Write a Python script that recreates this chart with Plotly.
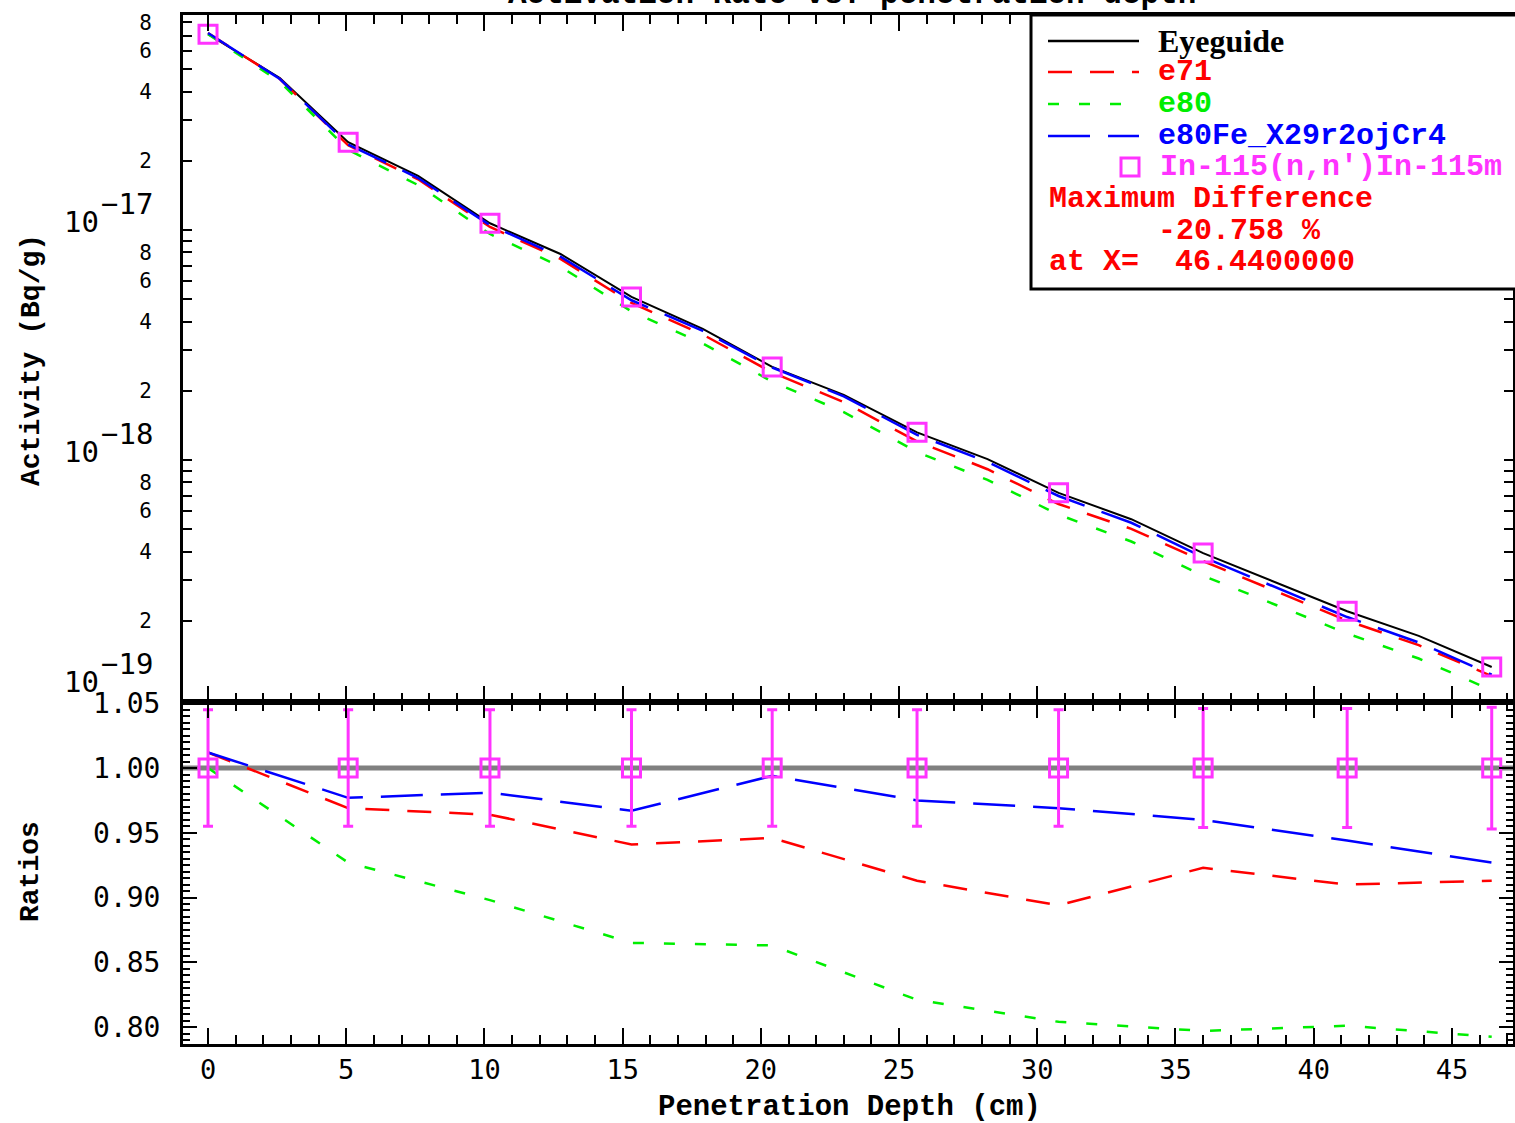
import plotly.graph_objects as go

# ---- measurement positions and values -------------------------------------
depth_meas = [0.0, 5.07, 10.2, 15.32, 20.41, 25.65, 30.77, 36.0, 41.21, 46.44]
act_meas = [7.1e-17, 2.41e-17, 1.07e-17, 5.12e-18, 2.54e-18,
            1.32e-18, 7.2e-19, 3.94e-19, 2.2e-19, 1.26e-19]
ratio_meas = [1.0, 1.0, 1.0, 1.0, 1.0, 1.0, 1.0, 1.0, 1.0, 1.0]
unc_meas = [0.045, 0.045, 0.045, 0.045, 0.045, 0.045, 0.045, 0.046, 0.046, 0.047]

# ---- eyeguide through the measured activities ------------------------------
depth_fine = [0.0, 2.6, 5.07, 7.6, 10.2, 12.75, 15.32, 17.9, 20.41, 23.0,
              25.65, 28.2, 30.77, 33.4, 36.0, 38.6, 41.21, 43.8, 46.44]
act_eye = [7.1e-17, 4.58e-17, 2.41e-17, 1.72e-17, 1.07e-17, 7.87e-18, 5.12e-18,
           3.72e-18, 2.54e-18, 1.92e-18, 1.32e-18, 1.01e-18, 7.2e-19, 5.53e-19,
           3.94e-19, 2.95e-19, 2.2e-19, 1.72e-19, 1.26e-19]

# ---- calculated / eyeguide along the depth (top panel) ---------------------
top_e71 = [1.012, 0.99, 0.969, 0.966, 0.964, 0.952, 0.941, 0.944, 0.946, 0.93,
           0.913, 0.903, 0.894, 0.908, 0.923, 0.916, 0.910, 0.911, 0.913]
top_e80 = [1.0, 0.963, 0.927, 0.912, 0.898, 0.881, 0.865, 0.864, 0.863, 0.842,
           0.821, 0.812, 0.804, 0.80, 0.797, 0.799, 0.801, 0.797, 0.7924]
top_e80fe = [1.012, 0.99, 0.977, 0.979, 0.981, 0.974, 0.967, 0.98, 0.994, 0.985,
             0.975, 0.972, 0.969, 0.965, 0.960, 0.952, 0.944, 0.936, 0.927]

# ---- C/E ratios at the measurement positions (bottom panel) ----------------
ratio_e71 = [1.012, 0.969, 0.964, 0.941, 0.946, 0.913, 0.894, 0.923, 0.910, 0.913]
ratio_e80 = [1.0, 0.927, 0.898, 0.865, 0.863, 0.821, 0.804, 0.797, 0.801, 0.79242]
ratio_e80fe = [1.012, 0.977, 0.981, 0.967, 0.994, 0.975, 0.969, 0.960, 0.944, 0.927]

# ---- axis ticks -------------------------------------------------------------
act_tickvals = [2e-19, 4e-19, 6e-19, 8e-19, 2e-18, 4e-18, 6e-18, 8e-18,
                2e-17, 4e-17, 6e-17, 8e-17]
act_ticktext = ["2", "4", "6", "8", "2", "4", "6", "8", "2", "4", "6", "8"]
act_minorvals = [3e-19, 5e-19, 7e-19, 9e-19, 1e-18, 3e-18, 5e-18, 7e-18, 9e-18,
                 1e-17, 3e-17, 5e-17, 7e-17]
decade_exps = [-19, -18, -17]

W, H = 1515, 1123
MAG = "#ff33ff"
RED, GRN, BLU = "#ff0000", "#00ee00", "#0000ff"
DASH_RED, DASH_GRN, DASH_BLU = "24px,18px", "11px,20px", "42px,18px"
MONO = "Liberation Mono"
TICKF = "DejaVu Sans Mono"


def px(x):
    return x / W


def py(y):
    return 1 - y / H


top_act = lambda r: [a * k for a, k in zip(act_eye, r)]

fig = go.Figure()

# top panel: activities
fig.add_trace(go.Scatter(x=depth_fine, y=act_eye, mode="lines",
                         line=dict(color="black", width=2), xaxis="x", yaxis="y"))
fig.add_trace(go.Scatter(x=depth_fine, y=top_act(top_e71), mode="lines",
                         line=dict(color=RED, width=2.5, dash=DASH_RED), xaxis="x", yaxis="y"))
fig.add_trace(go.Scatter(x=depth_fine, y=top_act(top_e80), mode="lines",
                         line=dict(color=GRN, width=2.5, dash=DASH_GRN), xaxis="x", yaxis="y"))
fig.add_trace(go.Scatter(x=depth_fine, y=top_act(top_e80fe), mode="lines",
                         line=dict(color=BLU, width=2.5, dash=DASH_BLU), xaxis="x", yaxis="y"))
fig.add_trace(go.Scatter(x=depth_meas, y=act_meas, mode="markers",
                         marker=dict(symbol="square-open", size=18, color=MAG,
                                     line=dict(width=3, color=MAG)),
                         xaxis="x", yaxis="y"))

# bottom panel: ratios
fig.add_trace(go.Scatter(x=depth_meas, y=ratio_e71, mode="lines",
                         line=dict(color=RED, width=2.5, dash=DASH_RED), xaxis="x2", yaxis="y2"))
fig.add_trace(go.Scatter(x=depth_meas, y=ratio_e80, mode="lines",
                         line=dict(color=GRN, width=2.5, dash=DASH_GRN), xaxis="x2", yaxis="y2"))
fig.add_trace(go.Scatter(x=depth_meas, y=ratio_e80fe, mode="lines",
                         line=dict(color=BLU, width=2.5, dash=DASH_BLU), xaxis="x2", yaxis="y2"))
fig.add_trace(go.Scatter(x=depth_meas, y=ratio_meas, mode="markers",
                         marker=dict(symbol="square-open", size=18, color=MAG,
                                     line=dict(width=3, color=MAG)),
                         error_y=dict(type="data", array=unc_meas, color=MAG,
                                      thickness=3, width=5),
                         xaxis="x2", yaxis="y2"))

xdom = [px(183), px(1513)]
xrange = [-0.905, 47.21]
axis_common = dict(showline=True, linecolor="black", linewidth=3, mirror="allticks",
                   ticks="inside", tickcolor="black", tickwidth=2, showgrid=False,
                   zeroline=False, automargin=False)

fig.update_layout(
    width=W, height=H, autosize=False,
    margin=dict(l=0, r=0, t=0, b=0, pad=0),
    paper_bgcolor="white", plot_bgcolor="white",
    showlegend=False,
    xaxis=dict(domain=xdom, range=xrange, anchor="y", dtick=5, tick0=0, ticklen=16,
               showticklabels=False,
               minor=dict(ticks="inside", dtick=1, ticklen=9, tickcolor="black", tickwidth=2),
               **axis_common),
    yaxis=dict(domain=[py(702), py(15)], type="log", range=[-19.052, -16.065], anchor="x",
               tickvals=act_tickvals, ticktext=act_ticktext, ticklen=9,
               tickfont=dict(family=TICKF, size=21, color="black"),
               ticklabelstandoff=24,
               minor=dict(ticks="inside", tickvals=act_minorvals, ticklen=9,
                          tickcolor="black", tickwidth=2),
               **axis_common),
    xaxis2=dict(domain=xdom, range=xrange, anchor="y2", matches="x", dtick=5, tick0=0,
                ticklen=16,
                tickfont=dict(family=TICKF, size=27, color="black"),
                ticklabelstandoff=0,
                minor=dict(ticks="inside", dtick=1, ticklen=9, tickcolor="black", tickwidth=2),
                **axis_common),
    yaxis2=dict(domain=[py(1044), py(702)], range=[0.7869, 1.051], anchor="x2",
                dtick=0.05, tick0=0.8, tickformat=".2f", ticklen=14,
                tickfont=dict(family=TICKF, size=28, color="black"),
                ticklabelstandoff=14,
                minor=dict(ticks="inside", dtick=0.005, ticklen=7, tickcolor="black", tickwidth=2),
                **axis_common),
)

# unity reference line in the ratio panel
fig.add_shape(type="line", xref="x2 domain", yref="y2", x0=0, x1=1, y0=1.0, y1=1.0,
              line=dict(color="#808080", width=5), layer="below")

annotations = []

# decade labels of the activity axis
for e in decade_exps:
    annotations.append(dict(xref="paper", yref="y", x=px(101), y=e, text="10",
                            xanchor="right", yanchor="middle", showarrow=False, yshift=8,
                            font=dict(family=TICKF, size=29, color="black")))
    annotations.append(dict(xref="paper", yref="y", x=px(99), y=e, text="\u2212%d" % -e,
                            xanchor="left", yanchor="middle", showarrow=False, yshift=26,
                            font=dict(family=TICKF, size=29, color="black")))

# axis titles and chart title (the title sits at the very top edge of the page)
annotations += [
    dict(xref="paper", yref="paper", x=px(32), y=py(360), text="<b>Activity (Bq/g)</b>",
         textangle=-90, showarrow=False, xanchor="center", yanchor="middle",
         font=dict(family=MONO, size=28, color="black")),
    dict(xref="paper", yref="paper", x=px(30), y=py(872), text="<b>Ratios</b>",
         textangle=-90, showarrow=False, xanchor="center", yanchor="middle",
         font=dict(family=MONO, size=28, color="black")),
    dict(xref="paper", yref="paper", x=px(849), y=py(1107),
         text="<b>Penetration Depth (cm)</b>", showarrow=False,
         xanchor="center", yanchor="middle", font=dict(family=MONO, size=29, color="black")),
    dict(xref="paper", yref="paper", x=px(507), y=py(13),
         text="<b>Activation Rate vs. penetration depth</b>", showarrow=False,
         xanchor="left", yanchor="bottom", borderpad=0,
         font=dict(family=MONO, size=31, color="black")),
]

# legend box
fig.add_shape(type="rect", xref="paper", yref="paper", x0=px(1031), x1=px(1520),
              y0=py(289), y1=py(15), line=dict(color="black", width=3),
              fillcolor="white", layer="above")

legend_rows = [
    ("Eyeguide", "black", "solid", 41),
    ("e71", RED, DASH_RED, 72),
    ("e80", GRN, DASH_GRN, 104),
    ("e80Fe_X29r2ojCr4", BLU, DASH_BLU, 136),
]
for label, col, dash, yy in legend_rows:
    fig.add_shape(type="line", xref="paper", yref="paper", x0=px(1048), x1=px(1139),
                  y0=py(yy), y1=py(yy), line=dict(color=col, width=2.5, dash=dash),
                  layer="above")
    fam = "Liberation Serif" if label == "Eyeguide" else MONO
    size = 32 if label == "Eyeguide" else 30
    annotations.append(dict(xref="paper", yref="paper", x=px(1156), y=py(yy),
                            text="<b>%s</b>" % label, showarrow=False,
                            xanchor="left", yanchor="middle",
                            font=dict(family=fam, size=size, color=col)))

fig.add_shape(type="rect", xref="paper", yref="paper", x0=px(1121), x1=px(1139),
              y0=py(176), y1=py(158), line=dict(color=MAG, width=3), layer="above")
annotations.append(dict(xref="paper", yref="paper", x=px(1158), y=py(167),
                        text="<b>In-115(n,n')In-115m</b>", showarrow=False,
                        xanchor="left", yanchor="middle",
                        font=dict(family=MONO, size=30, color=MAG)))

max_diff = (ratio_e80[-1] - 1.0) * 100
for text, xx, yy in [("Maximum Difference", 1047, 199),
                     ("%.3f %%" % max_diff, 1156, 231),
                     ("at X=  %.7f" % depth_meas[-1], 1047, 262)]:
    annotations.append(dict(xref="paper", yref="paper", x=px(xx), y=py(yy),
                            text="<b>%s</b>" % text.replace("  ", "\u00a0\u00a0"),
                            showarrow=False, xanchor="left", yanchor="middle",
                            font=dict(family=MONO, size=30, color=RED)))

fig.update_layout(annotations=annotations)

fig.write_html("out.html")
